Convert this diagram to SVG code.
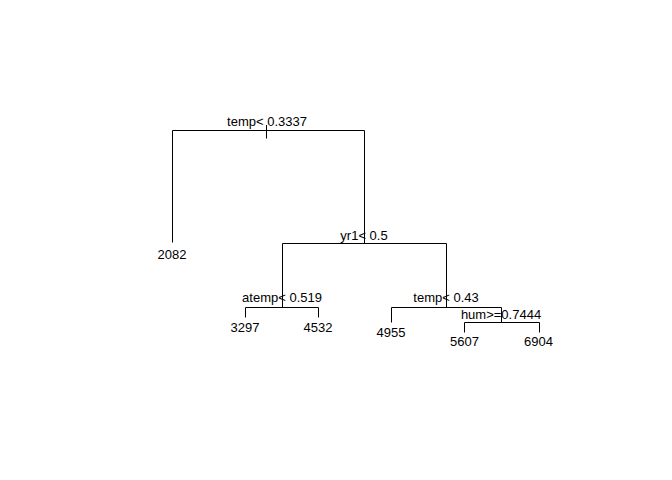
<svg xmlns="http://www.w3.org/2000/svg" width="672" height="480" viewBox="0 0 672 480">
<style>
.l{stroke:#000;stroke-width:1;fill:none}
text{font-family:"Liberation Sans",Arial,sans-serif;font-size:13px;fill:#000;text-anchor:middle}
</style>
<rect width="672" height="480" fill="#fff"/>
<g id="connectors" class="l">
<path d="M266.5,125V138.5"/>
<path d="M172.5,242.5V130.5H364.5V243.5"/>
<path d="M282.5,307.5V243.5H446.5V307.5"/>
<path d="M245.5,317.5V307.5H318.5V317.5"/>
<path d="M391.5,322.5V307.5H501.5V322.5"/>
<path d="M464.5,332.5V322.5H539.5V332.5"/>
</g>
<g id="n1"><text x="267" y="126">temp&lt; 0.3337</text></g>
<g id="n2"><text x="172" y="258.5">2082</text></g>
<g id="n3"><text x="364" y="240">yr1&lt; 0.5</text></g>
<g id="n4"><text x="282" y="302">atemp&lt; 0.519</text></g>
<g id="n5"><text x="245" y="331.7">3297</text></g>
<g id="n6"><text x="318" y="331.7">4532</text></g>
<g id="n7"><text x="446" y="302">temp&lt; 0.43</text></g>
<g id="n8"><text x="391" y="337.3">4955</text></g>
<g id="n9"><text x="501" y="318.5">hum&gt;=0.7444</text></g>
<g id="n10"><text x="464.5" y="346">5607</text></g>
<g id="n11"><text x="538.5" y="346">6904</text></g>
</svg>
